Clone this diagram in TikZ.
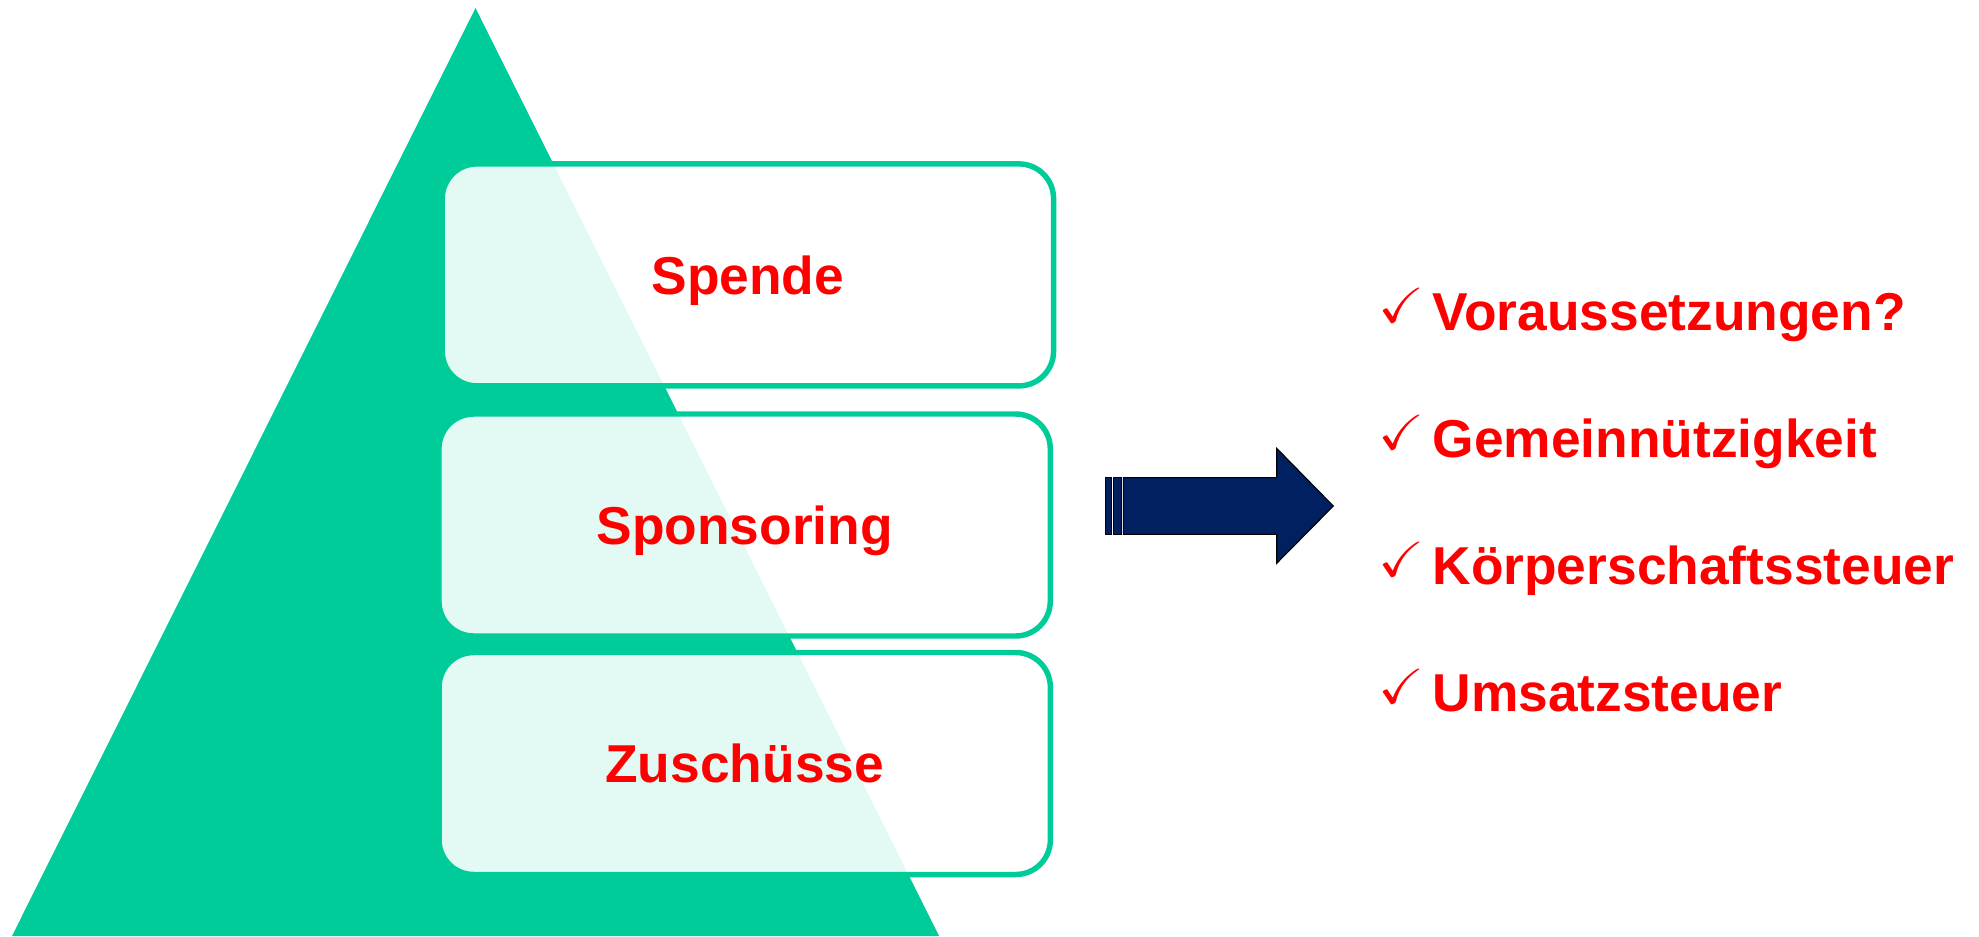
\documentclass[tikz,border=0pt]{standalone}
\usepackage{amssymb}
\usepackage{fontspec}
\setmainfont{Liberation Sans}

\tikzset{every picture/.style={line width=0.75pt}}
\tikzset{
  fundbox/.style={draw={rgb, 255:red, 0; green, 204; blue, 153}, line width=4.1pt,
    fill=white, fill opacity=0.89, text opacity=1, rounded corners=26pt,
    minimum width=458.5pt, minimum height=166.5pt, inner sep=0pt,
    text height=28.7pt, text depth=0pt, text=red,
    font=\fontsize{40}{48}\selectfont\bfseries},
  listtext/.style={anchor=base west, inner sep=0pt, text=red,
    font=\fontsize{40}{48}\selectfont\bfseries},
  tick/.style={anchor=base west, inner sep=0pt, text=red, xscale=1.12,
    font=\fontsize{37}{44}\selectfont},
  arrowpart/.style={fill={rgb, 255:red, 0; green, 32; blue, 96}, draw=black, line width=0.8pt}
}

\begin{document}
\begin{tikzpicture}[x=0.75pt,y=0.75pt,yscale=-1,xscale=1]
\useasboundingbox (0,0) rectangle (1979,936);

%Shape: Triangle
\fill [color={rgb, 255:red, 0; green, 204; blue, 153 }] (475.5,8) -- (939,936) -- (12,936) -- cycle ;

%Shape: Rounded Rect
\node [fundbox] (spende) at (747.9,274.9) {Spende};
%Shape: Rounded Rect
\node [fundbox] (sponsoring) at (744.6,525) {Sponsoring};
%Shape: Rounded Rect
\node [fundbox] (zuschuesse) at (744.7,763.5) {Zuschüsse};

%Shape: Right Arrow
\draw [arrowpart] (1105.7,477.7) rectangle (1111.7,534.3) ;
\draw [arrowpart] (1113.3,477.7) rectangle (1121.7,534.3) ;
\draw [arrowpart] (1123.3,477.7) -- (1276.7,477.7) -- (1276.7,448.3) -- (1333.3,506) -- (1276.7,563.3) -- (1276.7,534.3) -- (1123.3,534.3) -- cycle ;

% Text Node
\node [tick] (tick1) at (1378,322) {$\checkmark$};
\node [listtext] (voraus) at (1432,330) {Voraussetzungen?};
% Text Node
\node [tick] (tick2) at (1378,449) {$\checkmark$};
\node [listtext] (gemein) at (1432,457) {Gemeinnützigkeit};
% Text Node
\node [tick] (tick3) at (1378,576) {$\checkmark$};
\node [listtext] (koerper) at (1432,584) {Körperschaftssteuer};
% Text Node
\node [tick] (tick4) at (1378,703) {$\checkmark$};
\node [listtext] (umsatz) at (1432,711) {Umsatzsteuer};

\end{tikzpicture}
\end{document}
